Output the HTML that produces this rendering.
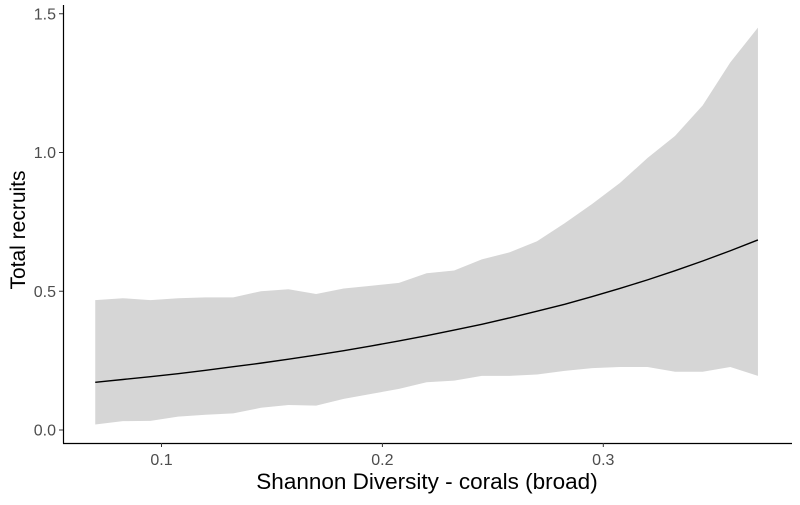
<!DOCTYPE html>
<html><head><meta charset="utf-8"><style>
body{margin:0;background:#fff}
svg text{font-family:"Liberation Sans",sans-serif}
</style></head><body>
<svg id="chart" width="800" height="500" viewBox="0 0 800 500">
<g id="plot"></g>
</svg>
<script>
const xValues=[0.07,0.0825,0.095,0.1075,0.12,0.1325,0.145,0.1575,0.17,0.1825,0.195,0.2075,0.22,0.2325,0.245,0.2575,0.27,0.2825,0.295,0.3075,0.32,0.3325,0.345,0.3575,0.37];
const upper=[0.468,0.475,0.468,0.475,0.478,0.478,0.50,0.507,0.49,0.51,0.52,0.53,0.565,0.575,0.615,0.64,0.68,0.745,0.815,0.89,0.98,1.06,1.17,1.325,1.45];
const lower=[0.02,0.032,0.033,0.048,0.055,0.06,0.08,0.09,0.088,0.112,0.13,0.148,0.172,0.178,0.195,0.195,0.2,0.213,0.223,0.227,0.227,0.21,0.21,0.227,0.195];
const mean=[0.172,0.182,0.192,0.203,0.215,0.228,0.241,0.255,0.27,0.286,0.303,0.321,0.34,0.36,0.381,0.404,0.428,0.453,0.481,0.51,0.541,0.574,0.609,0.646,0.685];
const xTicks=[0.1,0.2,0.3];
const xTickLabels=["0.1","0.2","0.3"];
const yTicks=[0,0.5,1,1.5];
const yTickLabels=["0.0","0.5","1.0","1.5"];
const X=v=>161.5+(v-0.1)*2209;
const Y=v=>430-v*277.5;
const NS="http://www.w3.org/2000/svg";
const g=document.getElementById('plot');
function mk(t,a){const e=document.createElementNS(NS,t);for(const k in a)e.setAttribute(k,a[k]);g.appendChild(e);return e;}
let d="M"+xValues.map((x,i)=>X(x)+","+Y(upper[i])).join("L");
for(let i=xValues.length-1;i>=0;i--)d+="L"+X(xValues[i])+","+Y(lower[i]);
const band=mk('path',{d:d+"Z",fill:"#d6d6d6"});


const line=mk('path',{d:"M"+xValues.map((x,i)=>X(x)+","+Y(mean[i])).join("L"),fill:"none",stroke:"#000","stroke-width":1.4});


const ya=mk('line',{x1:63.5,y1:5,x2:63.5,y2:443.5,stroke:"#000","stroke-width":1.2});


const xa=mk('line',{x1:63,y1:443.5,x2:792,y2:443.5,stroke:"#000","stroke-width":1.2});


yTicks.forEach((v,i)=>{
 const tk=mk('line',{x1:59,x2:63,y1:Y(v),y2:Y(v),stroke:"#333"});
 
 
 const t=mk('text',{x:56,y:Y(v)+5.5,"text-anchor":"end","font-size":16,fill:"#4d4d4d"});
 t.textContent=yTickLabels[i];
 
 
});
xTicks.forEach((v,i)=>{
 const tk=mk('line',{x1:X(v),x2:X(v),y1:443,y2:447,stroke:"#333"});
 
 
 const t=mk('text',{x:X(v),y:465,"text-anchor":"middle","font-size":16,fill:"#4d4d4d"});
 t.textContent=xTickLabels[i];
 
 
});
const xt=mk('text',{x:427,y:489,"text-anchor":"middle","font-size":22.5,fill:"#000"});
xt.textContent="Shannon Diversity - corals (broad)";


const yt=mk('text',{x:0,y:0,"text-anchor":"middle","font-size":21,fill:"#000",transform:"translate(25,230) rotate(-90)"});
yt.textContent="Total recruits";


</script>
</body></html>
